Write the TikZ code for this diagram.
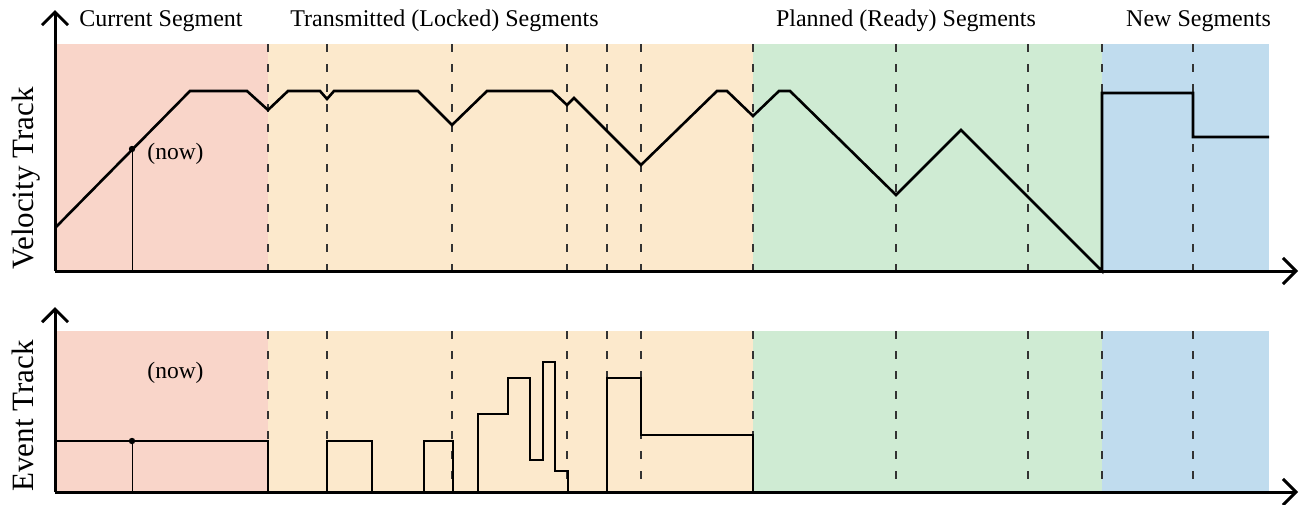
\documentclass[tikz,border=0pt]{standalone}
\usepackage{fontspec}
\setmainfont{Liberation Serif}
\usetikzlibrary{arrows.meta}
\definecolor{segCur}{HTML}{F9D5C9}
\definecolor{segTx}{HTML}{FCE9CC}
\definecolor{segPlan}{HTML}{CFEBD3}
\definecolor{segNew}{HTML}{C0DCEE}
\tikzset{
  segline/.style={black!80, line width=1.2pt, dash pattern=on 8pt off 12pt},
  trackline/.style={line width=2.6pt, line join=miter},
  axisline/.style={line width=3pt, -{Straight Barb[length=13pt,width=26pt,line width=3pt]}},
  nowline/.style={line width=0.9pt},
  hdr/.style={font=\fontsize{24}{28}\selectfont, anchor=base, inner sep=0pt},
  ylab/.style={font=\fontsize{31}{36}\selectfont, anchor=base, rotate=90, inner sep=0pt},
  nowlab/.style={font=\fontsize{23.5}{28}\selectfont, anchor=base, inner sep=0pt},
}
\begin{document}
\begin{tikzpicture}[x=1pt,y=-1pt]
\useasboundingbox (0,0) rectangle (1301,504);
% backgrounds top
\fill[segCur]  (55,44) rectangle (268,271);
\fill[segTx]   (268,44) rectangle (753,271);
\fill[segPlan] (753,44) rectangle (1102,271);
\fill[segNew]  (1102,44) rectangle (1269,271);
% backgrounds bottom
\fill[segCur]  (55,331) rectangle (268,492);
\fill[segTx]   (268,331) rectangle (753,492);
\fill[segPlan] (753,331) rectangle (1102,492);
\fill[segNew]  (1102,331) rectangle (1269,492);
% segment boundaries
\foreach \x in {268,327,452,567,607,641,753,896,1028,1102,1193}{
  \draw[segline] (\x,44) -- (\x,271);
  \draw[segline] (\x,331) -- (\x,492);
}
% now markers
\coordinate (nowV) at (132,149);
\coordinate (nowVb) at (132,271);
\coordinate (nowE) at (132,441);
\coordinate (nowEb) at (132,492);
\draw[nowline] (nowV) -- (nowVb);
\draw[nowline] (nowE) -- (nowEb);
% velocity track
\draw[trackline] (55,228) -- (190,91) -- (247,91) -- (268,110) -- (288,91) -- (320,91) -- (327,99) -- (334,91) -- (418,91) -- (452,125) -- (487,91) -- (552,91) -- (567,105) -- (574,98) -- (641,165) -- (717,91) -- (727,91) -- (753,116) -- (779,91) -- (790,91) -- (896,195) -- (961,130) -- (1102,271) -- (1102,93) -- (1193,93) -- (1193,137) -- (1269,137);
% event track
\draw[trackline] (55,441) -- (268,441) -- (268,492);
\draw[trackline] (327,492) -- (327,441) -- (372,441) -- (372,492);
\draw[trackline] (424,492) -- (424,441) -- (453,441) -- (453,492);
\draw[trackline] (478,492) -- (478,414) -- (508,414) -- (508,378) -- (530,378) -- (530,460) -- (543,460) -- (543,362) -- (555,362) -- (555,471) -- (568,471) -- (568,492);
\draw[trackline] (607,492) -- (607,378) -- (641,378) -- (641,435) -- (753,435) -- (753,492);
% axes
\coordinate (oV) at (55,271);
\coordinate (oE) at (55,492);
\draw[axisline] (oV) -- (55,10);
\draw[axisline] (oV) -- (1298,271);
\draw[axisline] (oE) -- (55,307);
\draw[axisline] (oE) -- (1298,492);
% now dots
\fill (nowV) circle (3.2pt);
\fill (nowE) circle (3.2pt);
% labels
\node[hdr] (hCur) at (161,26) {Current Segment};
\node[hdr] (hTx) at (444.5,26) {Transmitted (Locked) Segments};
\node[hdr] (hPlan) at (906,26) {Planned (Ready) Segments};
\node[hdr] (hNew) at (1198.5,26) {New Segments};
\node[ylab] (yV) at (33,178.5) {Velocity Track};
\node[ylab] (yE) at (33,416) {Event Track};
\node[nowlab] (lnowV) at (175.5,159) {(now)};
\node[nowlab] (lnowE) at (175.5,378) {(now)};
\end{tikzpicture}
\end{document}
